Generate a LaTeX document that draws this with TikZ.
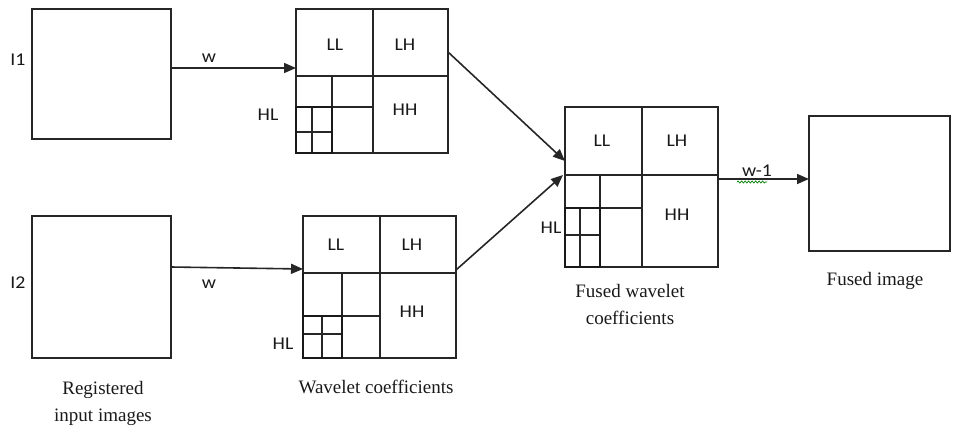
\documentclass[tikz,border=0pt]{standalone}
\usepackage{fontspec}
\usetikzlibrary{arrows.meta,decorations.pathmorphing}
\newfontfamily\labfont[FakeStretch=1.1]{Carlito}
\newfontfamily\capfont{Liberation Serif}
\tikzset{
  imgbox/.style={draw=black!85, line width=1.5pt, inner sep=0pt, outer sep=0pt, anchor=north west},
  gridline/.style={draw=black!85, line width=1.4pt},
  thickgridline/.style={draw=black!90, line width=2.3pt},
  arr/.style={draw=black!85, line width=1.6pt, -{Triangle[length=12pt,width=10pt]}},
  labtext/.style={font=\labfont\fontsize{18}{21}\selectfont, text=black!90, inner sep=0pt},
  captext/.style={font=\capfont\fontsize{19}{27}\selectfont, text=black!90, inner sep=0pt, align=center},
}
\begin{document}
\begin{tikzpicture}[x=1pt,y=-1pt]
\useasboundingbox (0,0) rectangle (972,431);
% input images
\node[imgbox, minimum width=139pt, minimum height=130pt] (in1) at (32,9) {};
\node[imgbox, minimum width=139pt, minimum height=142pt] (in2) at (32,216) {};
\node[labtext] (i1) at (18,60) {I1};
\node[labtext] (i2) at (18,283) {I2};
\node[captext] (regcap) at (103,403) {Registered\\input images};
% wavelet 1
\node[imgbox, minimum width=152pt, minimum height=144pt] (w1) at (296,9) {};
\draw[gridline] (373,9) -- (373,153);
\draw[gridline] (296,76) -- (448,76);
\draw[gridline] (332,76) -- (332,153);
\draw[gridline] (296,107) -- (373,107);
\draw[gridline] (312,107) -- (312,153);
\draw[gridline] (296,132) -- (332,132);
\draw[thickgridline] (296,107) rectangle (332,153);
\node[labtext] (w1ll) at (335,45) {LL};
\node[labtext] (w1lh) at (405,45) {LH};
\node[labtext] (w1hh) at (405,110) {HH};
\node[labtext] (w1hl) at (268,115) {HL};
% wavelet 2
\node[imgbox, minimum width=153pt, minimum height=142pt] (w2) at (303,216) {};
\draw[gridline] (380,216) -- (380,358);
\draw[gridline] (303,273) -- (456,273);
\draw[gridline] (342,273) -- (342,358);
\draw[gridline] (303,316) -- (380,316);
\draw[gridline] (322,316) -- (322,358);
\draw[gridline] (303,334) -- (342,334);
\draw[thickgridline] (303,273) -- (303,358) -- (342,358) -- (342,316) -- (303,316);
\node[labtext] (w2ll) at (336,245) {LL};
\node[labtext] (w2lh) at (412,245) {LH};
\node[labtext] (w2hh) at (412,312) {HH};
\node[labtext] (w2hl) at (283,344) {HL};
\node[captext] (wcap) at (376,387) {Wavelet coefficients};
% fused coefficients
\node[imgbox, minimum width=153pt, minimum height=160pt] (fc) at (565,107) {};
\draw[gridline] (642,107) -- (642,267);
\draw[gridline] (565,175) -- (718,175);
\draw[gridline] (600,175) -- (600,267);
\draw[gridline] (565,208) -- (642,208);
\draw[gridline] (580,208) -- (580,267);
\draw[gridline] (565,235) -- (600,235);
\draw[thickgridline] (565,208) rectangle (600,267);
\node[labtext] (fll) at (602,141) {LL};
\node[labtext] (flh) at (677,141) {LH};
\node[labtext] (fhh) at (677,215) {HH};
\node[labtext] (fhl) at (551,228) {HL};
\node[captext] (fcap) at (630,304) {Fused wavelet\\coefficients};
% fused image
\node[imgbox, minimum width=141pt, minimum height=135pt] (fi) at (809,116) {};
\node[captext] (ficap) at (875,281) {Fused image};
% connectors
\draw[arr] ([yshift=6pt]in1.east) -- ([yshift=6pt]in1.east -| w1.west);
\node[labtext] (wa) at (209,58) {w};
\draw[arr] ([yshift=20pt]in2.east) -- ([yshift=18pt]w2.west);
\node[labtext] (wb) at (209,284) {w};
\draw[arr] ([yshift=29pt]w1.east) -- ([yshift=26pt]fc.west);
\draw[arr] ([yshift=17pt]w2.east) -- ([xshift=-2pt,yshift=12pt]fc.west);
\draw[arr] ([yshift=8pt]fc.east) -- ([yshift=8pt]fc.east -| fi.west);
\node[labtext] (winv) at (757,171) {w-1};
\coordinate (sq1) at (737,182);
\coordinate (sq2) at (767,182);
\draw[green!50!black, line width=0.7pt, decorate, decoration={snake, amplitude=1pt, segment length=3.5pt}] (sq1) -- (sq2);
\end{tikzpicture}
\end{document}
